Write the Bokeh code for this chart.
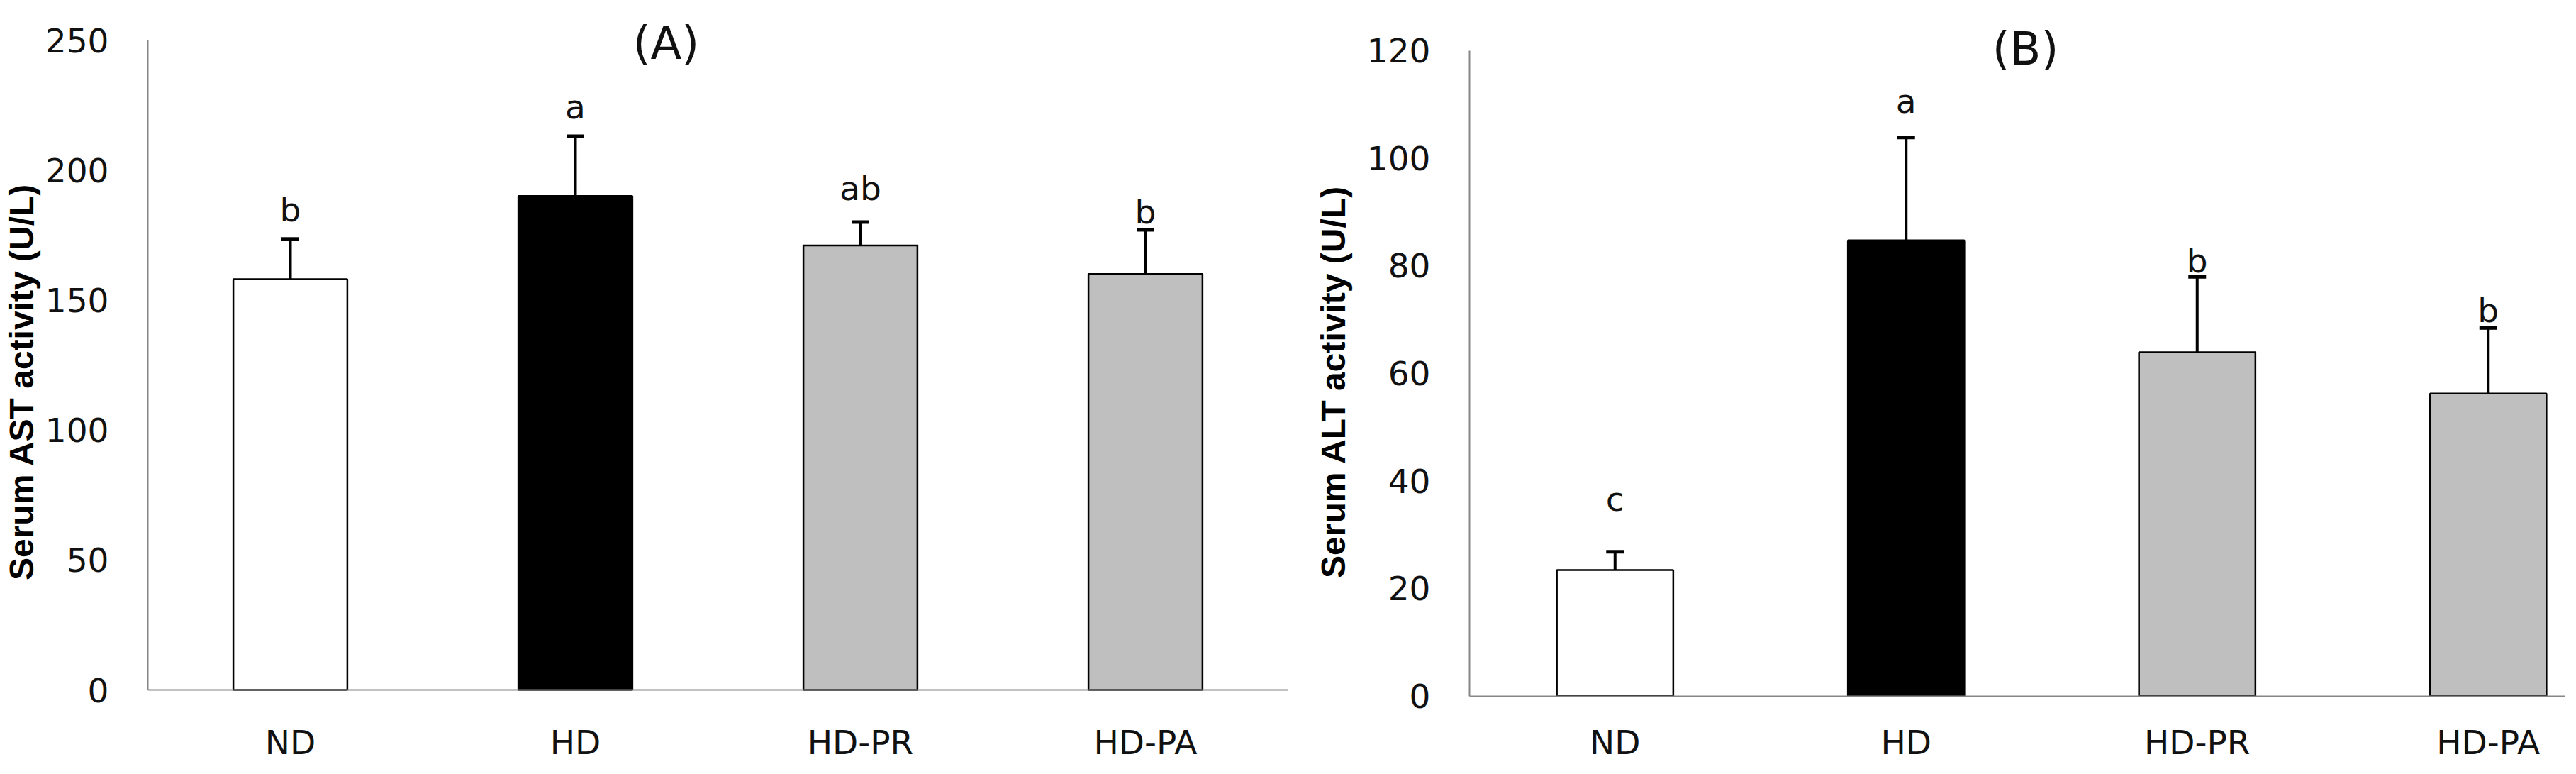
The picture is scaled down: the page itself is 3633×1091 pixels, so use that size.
from bokeh.plotting import figure
from bokeh.models import Range1d, FixedTicker, Whisker, TeeHead, ColumnDataSource, Label
from bokeh.layouts import row
from bokeh.embed import file_html
from bokeh.resources import INLINE
from bokeh.core.properties import value

# ---------------- data ----------------
groups = ["ND", "HD", "HD-PR", "HD-PA"]
bar_colors = ["#ffffff", "#000000", "#bfbfbf", "#bfbfbf"]

ast_mean = [158, 190, 171, 160]
ast_sd = [15.5, 23, 9, 17]
ast_letters = ["b", "a", "ab", "b"]
ast_ticks = [0, 50, 100, 150, 200, 250]

alt_mean = [23.4, 84.7, 63.9, 56.2]
alt_sd = [3.4, 19.1, 14.0, 12.2]
alt_letters = ["c", "a", "b", "b"]
alt_ticks = [0, 20, 40, 60, 80, 100, 120]

# ---------------- style ----------------
TICK_FONT = "DejaVu Sans"
TITLE_FONT = "Liberation Sans"
AXIS_GRAY = "#868686"
FIG_H = 1075


def make_panel(mean, sd, letters, letter_gaps, ticks, ylabel, tag, tag_x, tag_y,
               width, b_left, b_right, px_top, px_bottom, x_end,
               x_standoff, label_standoff):
    # px_top: pixels between figure top and the top tick; px_bottom: pixels below zero line
    xs = [i + 0.5 for i in range(len(groups))]
    tops = [m + s for m, s in zip(mean, sd)]
    y_max = ticks[-1]
    span_px = FIG_H - px_top - px_bottom
    per_px = y_max / span_px
    y_lo = -px_bottom * per_px
    y_hi = y_max + px_top * per_px

    src = ColumnDataSource(dict(x=xs, mean=mean, top=tops, color=bar_colors,
                                letter=letters, yoff=[-g for g in letter_gaps]))
    p = figure(width=width, height=FIG_H, output_backend="svg", toolbar_location=None,
               x_range=Range1d(0, x_end), y_range=Range1d(y_lo, y_hi),
               min_border_left=b_left, min_border_right=b_right,
               min_border_top=0, min_border_bottom=0)
    p.title.visible = False
    p.outline_line_color = None
    p.xgrid.visible = False
    p.ygrid.visible = False
    p.background_fill_color = "white"
    p.border_fill_color = "white"

    p.vbar(x="x", top="mean", bottom=0, width=0.4, source=src, fill_color="color",
           line_color="black", line_width=2.5)
    w = Whisker(source=src, base="x", lower="mean", upper="top", dimension="height",
                line_color="black", line_width=4, level="glyph",
                upper_head=TeeHead(size=25, line_width=5, line_color="black"),
                lower_head=None)
    p.add_layout(w)
    p.text(x="x", y="top", text="letter", y_offset="yoff", source=src,
           text_align="center", text_baseline="alphabetic",
           text_font=value(TICK_FONT), text_font_size="47px", text_color="#111111")

    p.add_layout(Label(x=tag_x, y=tag_y, text=tag, text_align="center",
                       text_baseline="middle", text_font=TICK_FONT,
                       text_font_size="64px", text_color="#111111"))

    # axes
    p.xaxis.ticker = FixedTicker(ticks=xs)
    p.xaxis.major_label_overrides = {x: g for x, g in zip(xs, groups)}
    p.xaxis.fixed_location = 0
    p.yaxis.ticker = FixedTicker(ticks=ticks)
    p.yaxis.bounds = (0, y_max)
    for ax in (p.xaxis[0], p.yaxis[0]):
        ax.axis_line_color = AXIS_GRAY
        ax.axis_line_width = 2
        ax.major_tick_line_color = None
        ax.minor_tick_line_color = None
        ax.major_tick_out = 0
        ax.major_tick_in = 0
        ax.minor_tick_out = 0
        ax.minor_tick_in = 0
        ax.major_label_text_font = TICK_FONT
        ax.major_label_text_color = "#111111"
        ax.major_label_text_font_size = "47px"
    p.xaxis.major_label_standoff = x_standoff
    p.yaxis.major_label_standoff = 55
    p.yaxis.axis_label = ylabel
    p.yaxis.axis_label_text_font = TITLE_FONT
    p.yaxis.axis_label_text_font_style = "bold"
    p.yaxis.axis_label_text_font_size = "48px"
    p.yaxis.axis_label_text_color = "#000000"
    p.yaxis.axis_label_standoff = label_standoff
    return p


pA = make_panel(ast_mean, ast_sd, ast_letters, [41, 42, 47, 25], ast_ticks,
                "Serum AST activity (U/L)", "(A)", 1.818, 248.9,
                width=1842, b_left=201, b_right=26, px_top=56, px_bottom=103,
                x_end=4.0, x_standoff=46, label_standoff=4)

pB = make_panel(alt_mean, alt_sd, alt_letters, [74, 51, 23, 25], alt_ticks,
                "Serum ALT activity (U/L)", "(B)", 1.91, 120.2,
                width=1775, b_left=230, b_right=0, px_top=70.5, px_bottom=94.5,
                x_end=1545 / 410.5, x_standoff=38, label_standoff=18)

layout = row(pA, pB)
open("out.html", "w").write(file_html(layout, INLINE))
